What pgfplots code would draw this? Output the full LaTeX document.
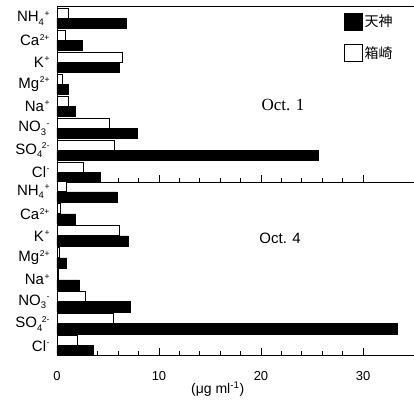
\documentclass[border=0pt]{standalone}
\usepackage{fontspec}
\setmainfont{Liberation Sans}
\newfontfamily\cjk{Noto Sans CJK JP}
\newfontfamily\timesf{Liberation Serif}
\usepackage{pgfplots}
\pgfplotsset{compat=1.18}
\newcommand{\sups}[1]{\raisebox{5.5pt}{\fontsize{8.5}{9}\selectfont #1}}
\newcommand{\subs}[1]{\raisebox{-3.5pt}{\fontsize{9.5}{10}\selectfont #1}}
\pgfplotsset{
  panel/.style={
    scale only axis, width=357pt,
    xmin=0, xmax=35,
    y dir=reverse,
    axis x line*=box, axis y line*=left,
    y axis line style={-},
    xtick pos=left,
    tick align=inside,
    xtick={0,10,20,30},
    minor x tick num=4,
    major tick length=7pt, minor tick length=4pt,
    ytick={0,1,2,3,4,5,6,7},
    yticklabels={NH\subs{4}\kern0.5pt\sups{+},Ca\kern0.5pt\sups{2+},K\kern0.5pt\sups{+},Mg\kern0.5pt\sups{2+},Na\kern0.5pt\sups{+},NO\subs{3}\kern0.5pt\sups{-},SO\subs{4}\kern-0.5pt\sups{2-},Cl\kern0.5pt\sups{-}},
    ytick style={draw=none},
    yticklabel style={font=\fontsize{15}{17}\selectfont, xshift=-4pt},
    xticklabel style={font=\fontsize{13}{15}\selectfont, yshift=-13pt},
    /pgf/number format/assume math mode=true,
    axis line style={line width=0.8pt},
    every tick/.style={black, line width=0.7pt},
  },
  blk/.style={xbar, bar width=0.46, bar shift=0pt, fill=black, draw=black, line width=0.6pt},
  wht/.style={xbar, bar width=0.46, bar shift=0pt, fill=white, draw=black, line width=0.8pt},
}
\begin{document}
\begin{tikzpicture}
\begin{axis}[panel, name=top, height=176pt,
    ymin=-0.55, ymax=7.45,
    xticklabels={},
    legend style={at={(axis description cs:0.955,0.975)}, anchor=north east, draw=none, fill=none,
      font=\cjk\fontsize{14}{16}\selectfont, row sep=14pt, cells={anchor=west}},
    legend image code/.code={\draw[#1, line width=0.8pt] (0pt,-8.5pt) rectangle (18pt,8.5pt);},
  ]
\addplot[blk] coordinates {(6.75,0.23) (2.5,1.23) (6.1,2.23) (1.1,3.23) (1.8,4.23) (7.9,5.23) (25.6,6.23) (4.25,7.23)};
\addlegendentry{天神}
\addplot[wht] coordinates {(1.07,-0.23) (0.85,0.77) (6.4,1.77) (0.5,2.77) (1.1,3.77) (5.1,4.77) (5.6,5.77) (2.6,6.77)};
\addlegendentry{箱崎}
\node[font=\timesf\fontsize{17}{19}\selectfont] at (axis description cs:0.633,0.4375) {Oct. 1};
\end{axis}
\begin{axis}[panel, at={(top.south west)}, anchor=north west, height=173pt,
    ymin=-0.45, ymax=7.42,
    xlabel={(μg ml\textsuperscript{-1})},
    xlabel style={font=\fontsize{14}{16}\selectfont, at={(axis description cs:0.45,-0.195)}, anchor=center},
  ]
\addplot[blk] coordinates {(5.9,0.23) (1.8,1.23) (7.0,2.23) (0.95,3.23) (2.2,4.23) (7.2,5.23) (33.4,6.23) (3.6,7.23)};
\addplot[wht] coordinates {(0.9,-0.23) (0.3,0.77) (6.1,1.77) (0.2,2.77) (0.1,3.77) (2.8,4.77) (5.5,5.77) (2.0,6.77)};
\node[font=\fontsize{15}{17}\selectfont] at (axis description cs:0.625,0.676) {Oct. 4};
\end{axis}
\pgfresetboundingbox
\path[use as bounding box] ([shift={(-57pt,6pt)}]top.north west) rectangle ([shift={(357pt,-400pt)}]top.north west);
\end{tikzpicture}
\end{document}
